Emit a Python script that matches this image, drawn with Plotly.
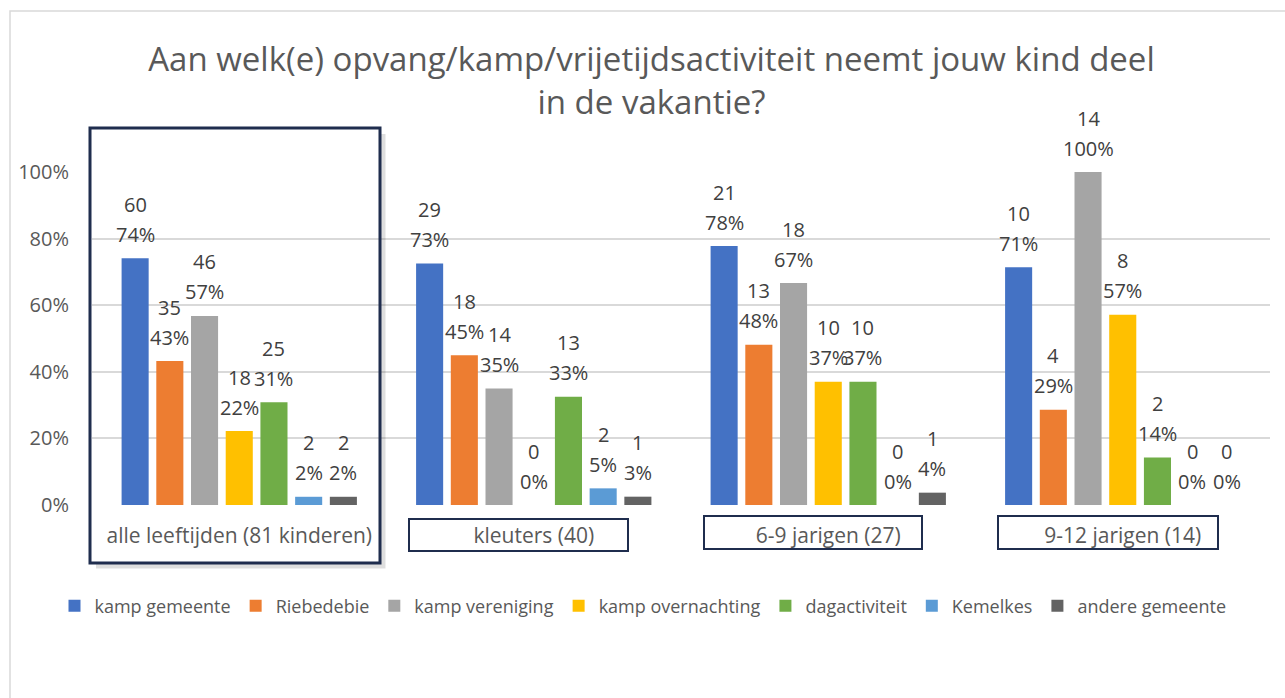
import plotly.graph_objects as go

# ---------------- data ----------------
categories = ["alle leeftijden (81 kinderen)", "kleuters (40)", "6-9 jarigen (27)", "9-12 jarigen (14)"]
group_sizes = [81, 40, 27, 14]

series_names = ["kamp gemeente", "Riebedebie", "kamp vereniging", "kamp overnachting",
                "dagactiviteit", "Kemelkes", "andere gemeente"]
kamp_gemeente = [60, 29, 21, 10]
riebedebie = [35, 18, 13, 4]
kamp_vereniging = [46, 14, 18, 14]
kamp_overnachting = [18, 0, 10, 8]
dagactiviteit = [25, 13, 10, 2]
kemelkes = [2, 2, 0, 0]
andere_gemeente = [2, 1, 1, 0]
series_counts = [kamp_gemeente, riebedebie, kamp_vereniging, kamp_overnachting,
                 dagactiviteit, kemelkes, andere_gemeente]

y_tickvals = [0, 0.2, 0.4, 0.6, 0.8, 1.0]

colors = ["#4472C4", "#ED7D31", "#A5A5A5", "#FFC000", "#70AD47", "#5B9BD5", "#636363"]

# ---------------- layout constants ----------------
W, H = 1285, 698
L, R, T, B = 92, 15, 172, 193
PW = W - L - R
PH = H - T - B
BARGAP = 0.175
BARGROUPGAP = 0.22
FONT = "Open Sans"
NAVY = "#1F2D4E"

def xp(px):
    return (px - L) / PW

def yp(py):
    return (H - B - py) / PH

def pct_half_up(c, n):
    return (200 * c + n) // (2 * n)

fig = go.Figure()
for name, counts, col in zip(series_names, series_counts, colors):
    vals = [c / n for c, n in zip(counts, group_sizes)]
    fig.add_trace(go.Bar(name=name, x=categories, y=vals, marker_color=col,
                         marker_line_width=0, hoverinfo="skip"))

# data labels (count on top, percentage below), anchored to each bar via the axes
slot = PW / len(categories) * (1 - BARGAP) / len(series_names)
annotations = []
for i, counts in enumerate(series_counts):
    shift = (i - (len(series_names) - 1) / 2) * slot
    for cat, c, n in zip(categories, counts, group_sizes):
        v = c / n
        annotations.append(dict(x=cat, y=v, xref="x", yref="y", text=f"{pct_half_up(c, n)}%",
                                showarrow=False, xshift=shift, yshift=24, yanchor="middle",
                                font=dict(family=FONT, size=20, color="#404040")))
        annotations.append(dict(x=cat, y=v, xref="x", yref="y", text=str(c),
                                showarrow=False, xshift=shift, yshift=54, yanchor="middle",
                                font=dict(family=FONT, size=20, color="#404040")))

shapes = [
    # outer chart border
    dict(type="rect", xref="paper", yref="paper", x0=xp(10), x1=xp(1300), y0=yp(720), y1=yp(11),
         line=dict(color="#D9D9D9", width=1.5), layer="below"),
    # shadow of highlighted group box
    dict(type="path", xref="paper", yref="paper",
         path=f"M {xp(96)},{yp(566)} L {xp(383)},{yp(566)} L {xp(383)},{yp(134)}",
         line=dict(color="rgba(0,0,0,0.13)", width=5)),
    # highlighted group box
    dict(type="rect", xref="paper", yref="paper", x0=xp(90), x1=xp(380), y0=yp(563), y1=yp(128),
         line=dict(color=NAVY, width=3)),
    # category label boxes
    dict(type="rect", xref="paper", yref="paper", x0=xp(409), x1=xp(628), y0=yp(551), y1=yp(519),
         line=dict(color=NAVY, width=2)),
    dict(type="rect", xref="paper", yref="paper", x0=xp(704), x1=xp(922), y0=yp(549), y1=yp(516),
         line=dict(color=NAVY, width=2)),
    dict(type="rect", xref="paper", yref="paper", x0=xp(998), x1=xp(1218), y0=yp(549), y1=yp(516),
         line=dict(color=NAVY, width=2)),
]

fig.update_layout(
    width=W, height=H,
    margin=dict(l=L, r=R, t=T, b=B, autoexpand=False),
    paper_bgcolor="white", plot_bgcolor="white",
    barmode="group", bargap=BARGAP, bargroupgap=BARGROUPGAP,
    font=dict(family=FONT, color="#595959"),
    title=dict(text="Aan welk(e) opvang/kamp/vrijetijdsactiviteit neemt jouw kind deel<br>in de vakantie?",
               x=0.507, xref="container", xanchor="center",
               y=1 - 71 / H, yref="container", yanchor="top",
               font=dict(family=FONT, size=33, color="#595959")),
    xaxis=dict(showgrid=False, showline=False, zeroline=False, ticks="",
               tickfont=dict(family=FONT, size=21, color="#595959"),
               ticklabelstandoff=16, automargin=False),
    yaxis=dict(range=[0, 1.0], tickvals=y_tickvals, tickformat=".0%",
               showgrid=True, gridcolor="#D9D9D9", gridwidth=1.5,
               zeroline=False, showline=False, ticks="",
               tickfont=dict(family=FONT, size=20, color="#595959"),
               ticklabelstandoff=22, automargin=False),
    legend=dict(orientation="h", x=xp(643), xanchor="center", y=yp(606), yanchor="middle",
                font=dict(family=FONT, size=18, color="#595959"), itemwidth=30,
                traceorder="normal", bgcolor="rgba(0,0,0,0)"),
    annotations=annotations,
    shapes=shapes,
    showlegend=True,
)

fig.write_html("out.html", config={"displayModeBar": False},
               post_script="document.body.style.margin='0px';document.body.style.overflow='hidden';")
